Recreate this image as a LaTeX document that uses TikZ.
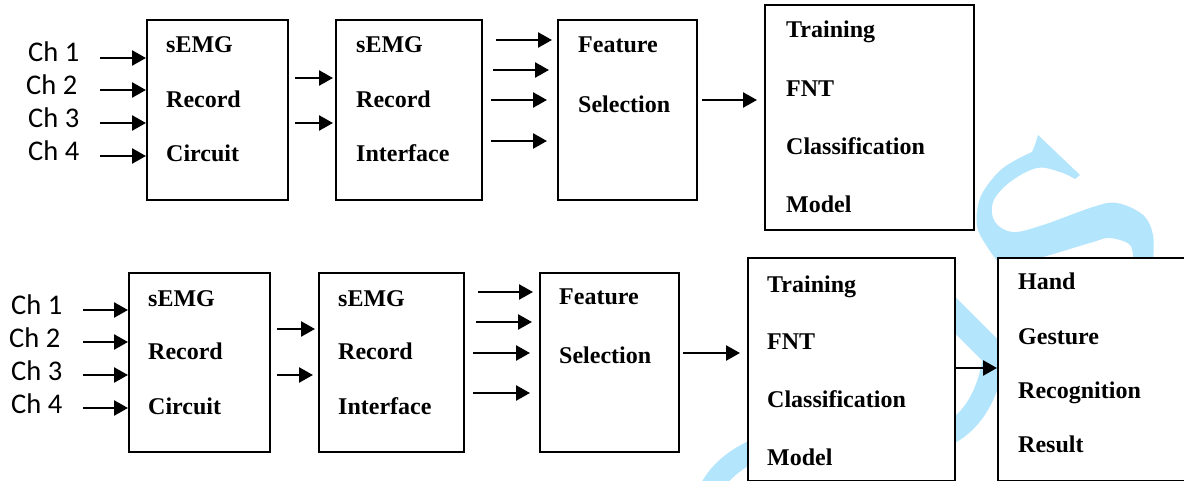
\documentclass[tikz,border=0pt]{standalone}
\usepackage{fontspec}
\setmainfont{Liberation Serif}
\newfontfamily\chanfont{Carlito}
\usetikzlibrary{arrows.meta,calc,positioning}
\definecolor{semgMark}{HTML}{B3E5FC}
\definecolor{semgLine}{HTML}{000000}
% lines of a block, first baseline on the node's base
\newcommand\blocklines[2]{\vtop{\baselineskip=#1\relax\lineskiplimit=-100pt\def\\{\egroup\hbox\bgroup}\hbox\bgroup#2\egroup}}

\begin{document}
\begin{tikzpicture}[x=1pt,y=-1pt,>={Triangle[length=14pt,width=15pt]},line join=miter]
\path[fill=white] (0,0) rectangle (1184,481);
\useasboundingbox (0,0) rectangle (1184,481);
\tikzset{blk/.style={draw=semgLine,line width=1.6pt,fill=white,inner sep=0pt,anchor=north west},txt/.style={anchor=base west,inner sep=0pt,font=\fontsize{24}{28}\selectfont\bfseries},chan/.style={anchor=base west,inner sep=0pt,font=\chanfont\fontsize{28.5}{30}\selectfont},arr/.style={draw=semgLine,->,line width=2.6pt},wmark/.style={fill=semgMark,draw=none}}
% faint watermark behind the blocks
\fill[wmark] (1038,135) -- (1080,175) -- (1075,179) -- plot[smooth,tension=.6] coordinates {(1075,179) (1060,172) (1037,168) (1010,182) (993,202) (995,222) (1013,232) (1043,225) (1093,207) (1117,203) (1143,215) (1153,235) (1153,262)} -- (1133,262) -- plot[smooth,tension=.6] coordinates {(1133,262) (1130,245) (1110,238) (1093,242) (1050,255) (1010,266)} -- (998,262) -- plot[smooth,tension=.6] coordinates {(998,262) (988,248) (978,230) (977,212) (983,192) (1003,168) (1032,152)} -- (1035,145) -- cycle;
\draw[semgMark,line width=26pt] (935,295) -- (1015,375);
\draw[semgMark,line width=22pt] (996,345) .. controls (985,440) and (930,455) .. (850,440) .. controls (790,430) and (730,450) .. (710,490);
% first chain
\node[blk,minimum width=141pt,minimum height=180pt] (rec1) at (146,19) {};
\node[blk,minimum width=146pt,minimum height=180pt] (int1) at (335,19) {};
\node[blk,minimum width=139pt,minimum height=180pt] (sel1) at (557,19) {};
\node[blk,minimum width=209pt,minimum height=225pt] (fnt1) at (764,4) {};
\node[txt] (rec1t) at ($(rec1.north west)+(20,34)$) {\blocklines{54.5pt}{sEMG\\Record\\Circuit}};
\node[txt] (int1t) at ($(int1.north west)+(21,34)$) {\blocklines{54.5pt}{sEMG\\Record\\Interface}};
\node[txt] (sel1t) at ($(sel1.north west)+(21,34)$) {\blocklines{60pt}{Feature\\Selection}};
\node[txt] (fnt1t) at ($(fnt1.north west)+(22,34)$) {\blocklines{58.3pt}{Training\\FNT\\Classification\\Model}};
\node[chan] (ch1a) at (28,62) {Ch 1}; \node[chan] (ch2a) at (26,95) {Ch 2};
\node[chan] (ch3a) at (28,128) {Ch 3}; \node[chan] (ch4a) at (28,161) {Ch 4};
\foreach \y [count=\i] in {58,90,123,156} {\coordinate (pa\i) at (100,\y); \draw[arr] (pa\i) -- (pa\i -| rec1.west);}
\foreach \x/\y/\s [count=\i] in {295/78/2,295/123/2} {\coordinate (qa\i) at (\x,\y); \draw[arr,shorten >=\s pt] (qa\i) -- (qa\i -| int1.west);}
\foreach \x/\y/\s [count=\i] in {496/40/5,493/70/8,491/100/10,491/141/10} {\coordinate (ua\i) at (\x,\y); \draw[arr,shorten >=\s pt] (ua\i) -- (ua\i -| sel1.west);}
\coordinate (va1) at (702,100); \draw[arr,shorten >=7pt] (va1) -- (va1 -| fnt1.west);
% second chain
\node[blk,minimum width=141pt,minimum height=179pt] (rec2) at (128,272) {};
\node[blk,minimum width=145pt,minimum height=179pt] (int2) at (318,272) {};
\node[blk,minimum width=139pt,minimum height=179pt] (sel2) at (539,272) {};
\node[blk,minimum width=207pt,minimum height=223pt] (fnt2) at (747,257) {};
\node[blk,minimum width=200pt,minimum height=223pt] (res2) at (997,257) {};
\node[txt] (rec2t) at ($(rec2.north west)+(20,34)$) {\blocklines{54pt}{sEMG\\Record\\Circuit}};
\node[txt] (int2t) at ($(int2.north west)+(20,34)$) {\blocklines{54pt}{sEMG\\Record\\Interface}};
\node[txt] (sel2t) at ($(sel2.north west)+(20,33)$) {\blocklines{59pt}{Feature\\Selection}};
\node[txt] (fnt2t) at ($(fnt2.north west)+(20,35)$) {\blocklines{57.7pt}{Training\\FNT\\Classification\\Model}};
\node[txt] (res2t) at ($(res2.north west)+(21,33)$) {\blocklines{54.3pt}{Hand\\Gesture\\Recognition\\Result}};
\node[chan] (ch1b) at (11,315) {Ch 1}; \node[chan] (ch2b) at (9,347) {Ch 2};
\node[chan] (ch3b) at (11,380) {Ch 3}; \node[chan] (ch4b) at (11,413) {Ch 4};
\foreach \y [count=\i] in {310,342,375,408} {\coordinate (pb\i) at (83,\y); \draw[arr] (pb\i) -- (pb\i -| rec2.west);}
\foreach \x/\y/\s [count=\i] in {277/329/3,277/375/5} {\coordinate (qb\i) at (\x,\y); \draw[arr,shorten >=\s pt] (qb\i) -- (qb\i -| int2.west);}
\foreach \x/\y/\s [count=\i] in {478/292/6,476/322/7,473/353/9,473/393/9} {\coordinate (ub\i) at (\x,\y); \draw[arr,shorten >=\s pt] (ub\i) -- (ub\i -| sel2.west);}
\coordinate (vb1) at (683,353); \draw[arr,shorten >=7pt] (vb1) -- (vb1 -| fnt2.west);
\coordinate (wb1) at (954,368); \draw[arr] (wb1) -- (wb1 -| res2.west);
\end{tikzpicture}
\end{document}
